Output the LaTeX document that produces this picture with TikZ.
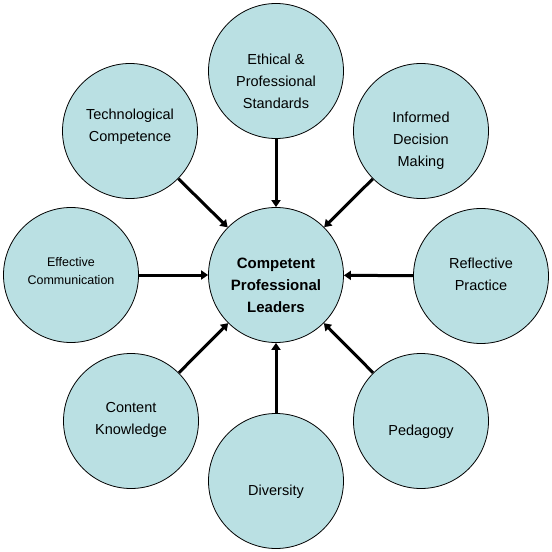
\documentclass[tikz,border=0pt]{standalone}
\usepackage{fontspec}
\setmainfont{Liberation Sans}
\usetikzlibrary{arrows.meta}
\definecolor{circfill}{RGB}{186,224,227}
\begin{document}
\begin{tikzpicture}[x=1pt,y=-1pt,
  bub/.style={circle,draw=black,line width=0.8pt,fill=circfill,minimum size=135pt,inner sep=0pt},
  txt/.style={align=center,font=\fontsize{14.5}{22}\selectfont},
  smalltxt/.style={align=center,font=\fontsize{12.5}{18}\selectfont},
  boldtxt/.style={align=center,font=\fontsize{15}{22}\selectfont\bfseries},
  arr/.style={line width=3pt,-{Triangle[length=7pt,width=9pt]}}]
\useasboundingbox[fill=white] (0,0) rectangle (552,552);
% circles
\node[bub] (ctr)  at (276,275) {};
\node[bub] (eth)  at (276,71)  {};
\node[bub] (tech) at (130,131) {};
\node[bub] (inf)  at (421,131) {};
\node[bub] (eff)  at (71,275)  {};
\node[bub] (refl) at (481,276) {};
\node[bub] (cont) at (131,421) {};
\node[bub] (div)  at (276,481) {};
\node[bub] (ped)  at (421,421) {};
% texts
\node[boldtxt] (ctrT)  at ([yshift=-10pt]ctr.center) {Competent\\Professional\\Leaders};
\node[txt]     (ethT)  at ([yshift=-10pt]eth.center) {Ethical \&\\Professional\\Standards};
\node[txt]     (techT) at ([yshift=4pt]tech.center) {Technological\\Competence};
\node[txt]     (infT)  at ([yshift=-10pt]inf.center) {Informed\\Decision\\Making};
\node[smalltxt](effT)  at ([yshift=4pt]eff.center) {Effective\\Communication};
\node[txt]     (reflT) at ([yshift=2pt]refl.center) {Reflective\\Practice};
\node[txt]     (contT) at ([yshift=1pt]cont.center) {Content\\Knowledge};
\node[txt]     (divT)  at ([yshift=-11pt]div.center) {Diversity};
\node[txt]     (pedT)  at ([yshift=-11pt]ped.center) {Pedagogy};
% arrows
\foreach \s in {eth,tech,inf,eff,refl,cont,div,ped}
  \draw[arr] (\s) -- (ctr);
\end{tikzpicture}
\end{document}
